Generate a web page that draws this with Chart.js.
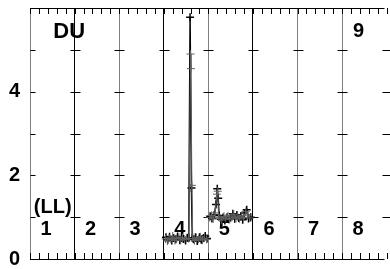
<!DOCTYPE html>
<html>
<head>
<meta charset="utf-8">
<script src="https://cdn.jsdelivr.net/npm/chart.js@4.4.1/dist/chart.umd.min.js"></script>
<style>
  html, body { margin: 0; padding: 0; background: #fff; overflow: hidden; }
  #wrap { width: 390px; height: 269px; }
</style>
</head>
<body>
<div id="wrap"><canvas id="chart" width="390" height="269"></canvas></div>
<script>
// panel labels
const segmentLabels = ["1", "2", "3", "4", "5", "6", "7", "8"];
const cornerLabels = ["DU", "9"];
const sideLabel = "(LL)";
const yTickLabels = [0, 2, 4];

// divider colours, one per integer x (0 = left axis)
const dividerColors = ["#808080", "#000", "#808080", "#000", "#808080", "#000", "#808080", "#808080", "#808080"];

// black series
const blackX = [3.05, 3.09, 3.13, 3.18, 3.22, 3.27, 3.31, 3.36, 3.40, 3.44, 3.49, 3.53, 3.56, 3.59, 3.62, 3.64, 3.67, 3.71, 3.75, 3.80, 3.84, 3.89, 3.93, 3.97,
  3.99,
  4.04, 4.08, 4.13, 4.17, 4.20, 4.22, 4.24, 4.28, 4.33, 4.37, 4.42, 4.46, 4.50, 4.55, 4.59, 4.64, 4.68, 4.73, 4.77, 4.81, 4.86, 4.90, 4.95];
const blackY = [0.52, 0.46, 0.53, 0.44, 0.50, 0.47, 0.54, 0.45, 0.50, 0.48, 0.44, 0.51, 0.50, 5.78, 1.70, 0.50, 0.47, 0.52, 0.43, 0.52, 0.46, 0.50, 0.55, 0.49,
  null,
  1.02, 0.97, 1.05, 1.30, 1.68, 1.45, 1.04, 0.95, 0.99, 0.92, 1.00, 0.95, 0.99, 1.08, 0.96, 1.05, 0.98, 1.02, 0.94, 1.10, 1.18, 0.97, 1.00];

// grey series
const greyX = [3.04, 3.08, 3.12, 3.16, 3.20, 3.25, 3.29, 3.34, 3.38, 3.42, 3.47, 3.51, 3.56, 3.60, 3.61, 3.63, 3.65, 3.69, 3.73, 3.78, 3.82, 3.87, 3.91, 3.96,
  3.99,
  4.03, 4.07, 4.11, 4.15, 4.19, 4.21, 4.23, 4.26, 4.30, 4.35, 4.39, 4.44, 4.48, 4.53, 4.57, 4.62, 4.66, 4.70, 4.75, 4.79, 4.84, 4.88, 4.93];
const greyY = [0.48, 0.43, 0.50, 0.47, 0.55, 0.44, 0.49, 0.52, 0.45, 0.51, 0.47, 0.50, 0.49, 4.90, 4.55, 1.76, 0.48, 0.44, 0.51, 0.47, 0.53, 0.45, 0.50, 0.47,
  null,
  0.99, 1.04, 0.96, 1.10, 1.55, 1.62, 1.00, 0.98, 0.93, 1.02, 0.97, 1.03, 0.95, 1.00, 1.07, 0.97, 1.01, 0.96, 1.04, 0.99, 1.14, 1.05, 0.98];

const xMax = 7.95;

const toPoints = (xs, ys) => xs.map((x, i) => ({x: x, y: ys[i]}));

const FONT = "bold 20px 'Liberation Sans', Arial, sans-serif";

const isInt = v => Math.abs(v - Math.round(v)) < 1e-6;

// frame, inward ticks, crosses and panel texts
const framePlugin = {
  id: "frame",
  beforeDatasetsDraw(chart) {
    const {ctx, chartArea: a, scales: {x, y}} = chart;
    ctx.save();
    ctx.lineWidth = 1;
    // minor ticks top & bottom
    ctx.strokeStyle = "#000";
    for (let i = 0; i <= 8 * 5; i++) {
      const px = Math.round(x.getPixelForValue(i / 5)) + 0.5;
      ctx.beginPath();
      ctx.moveTo(px, a.top); ctx.lineTo(px, a.top + 6);
      ctx.moveTo(px, a.bottom); ctx.lineTo(px, a.bottom - 6);
      ctx.stroke();
    }
    // crosses on dividers
    for (let d = 0; d <= 8; d++) {
      const px = Math.round(x.getPixelForValue(d)) + 0.5;
      for (let v = 1; v <= 5; v++) {
        const py = Math.round(y.getPixelForValue(v)) + 0.5;
        ctx.beginPath();
        ctx.moveTo(d === 0 ? px : px - 5, py);
        ctx.lineTo(px + 5, py);
        ctx.stroke();
      }
    }
    // top & bottom lines
    ctx.beginPath();
    ctx.moveTo(a.left, Math.round(a.top) + 0.5); ctx.lineTo(a.right, Math.round(a.top) + 0.5);
    ctx.moveTo(a.left, Math.round(a.bottom) + 0.5); ctx.lineTo(a.right, Math.round(a.bottom) + 0.5);
    ctx.stroke();

    // texts
    ctx.fillStyle = "#000";
    ctx.font = FONT;
    ctx.textAlign = "center";
    ctx.textBaseline = "middle";
    segmentLabels.forEach((t, i) => {
      ctx.fillText(t, x.getPixelForValue(i) + 16, y.getPixelForValue(0.7));
    });
    ctx.font = "bold 22px 'Liberation Sans', Arial, sans-serif";
    ctx.fillText(cornerLabels[0], x.getPixelForValue(0.88), y.getPixelForValue(5.43));
    ctx.font = FONT;
    ctx.fillText(cornerLabels[1], x.getPixelForValue(7.37), y.getPixelForValue(5.43));
    ctx.fillText(sideLabel, x.getPixelForValue(0.51), y.getPixelForValue(1.22));
    ctx.restore();
  }
};

new Chart(document.getElementById("chart"), {
  type: "line",
  data: {
    datasets: [
      {
        label: "grey",
        data: toPoints(greyX, greyY),
        borderColor: "#606060",
        backgroundColor: "#606060",
        borderWidth: 1,
        pointStyle: "cross",
        pointRadius: 4,
        pointBorderWidth: 1,
        spanGaps: false,
        tension: 0
      },
      {
        label: "black",
        data: toPoints(blackX, blackY),
        borderColor: "#000",
        backgroundColor: "#000",
        borderWidth: 1.5,
        pointStyle: "cross",
        pointRadius: 4,
        pointBorderWidth: 1.5,
        spanGaps: false,
        tension: 0
      }
    ]
  },
  options: {
    responsive: false,
    animation: false,
    events: [],
    layout: {padding: {left: 0, right: 0, top: 8, bottom: 10}},
    plugins: {legend: {display: false}, tooltip: {enabled: false}},
    scales: {
      x: {
        type: "linear",
        min: 0,
        max: xMax,
        afterFit: s => { s.height = 0; s.paddingLeft = 0; s.paddingRight = 0; },
        ticks: {display: false, stepSize: 1},
        border: {display: false},
        grid: {
          drawTicks: false,
          color: c => (c.tick && isInt(c.tick.value) && c.tick.value > 0) ? dividerColors[Math.round(c.tick.value)] : "rgba(0,0,0,0)",
          lineWidth: 1
        }
      },
      y: {
        min: 0,
        max: 6,
        afterFit: s => { s.width = 30; s.paddingTop = 0; s.paddingBottom = 0; },
        ticks: {
          stepSize: 1,
          padding: 10,
          color: "#000",
          font: {family: "'Liberation Sans', Arial, sans-serif", size: 20, weight: "bold"},
          callback: v => yTickLabels.includes(v) ? String(v) : ""
        },
        border: {display: true, color: "#808080", width: 1},
        grid: {display: false, drawTicks: false}
      }
    }
  },
  plugins: [framePlugin]
});
</script>
</body>
</html>
